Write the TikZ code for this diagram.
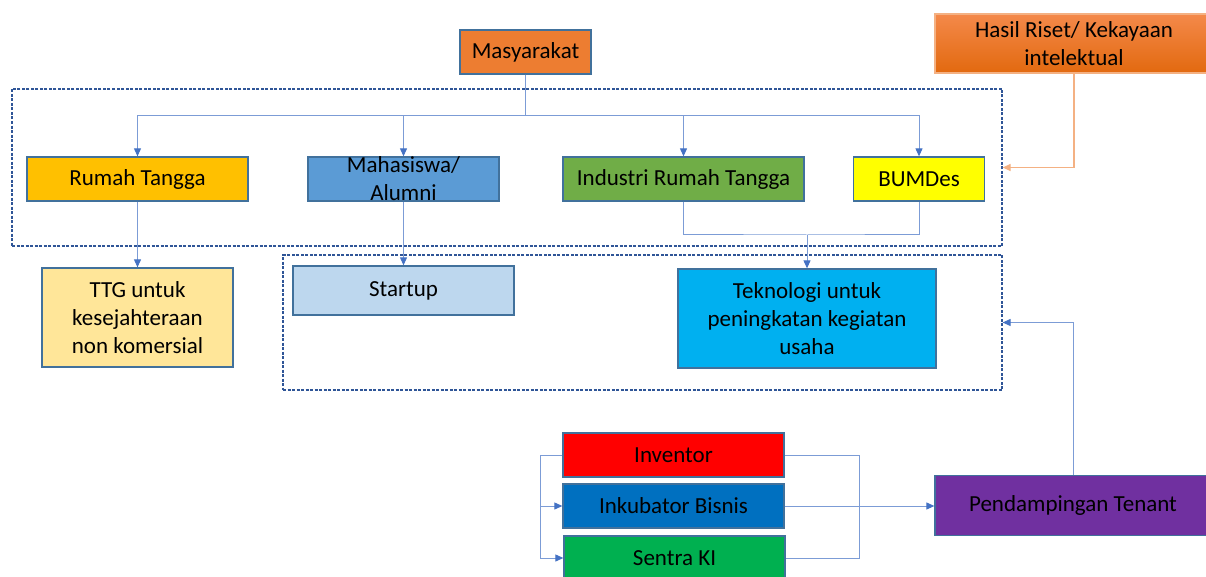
\documentclass[tikz,border=0pt]{standalone}
\usepackage{fontspec}
\setmainfont{Carlito}
\usetikzlibrary{arrows.meta}
\definecolor{edgeblue}{HTML}{41719C}
\definecolor{linkblue}{HTML}{4472C4}
\definecolor{groupblue}{HTML}{2F5597}
\definecolor{linkorange}{HTML}{F4B183}
\definecolor{cMas}{HTML}{ED7D31}
\definecolor{cHasTop}{HTML}{F4894A}
\definecolor{cHasBot}{HTML}{E2690F}
\definecolor{cRT}{HTML}{FFC000}
\definecolor{cMah}{HTML}{5B9BD5}
\definecolor{cInd}{HTML}{70AD47}
\definecolor{cBum}{HTML}{FFFF00}
\definecolor{cTTG}{HTML}{FFE699}
\definecolor{cSta}{HTML}{BDD7EE}
\definecolor{cTek}{HTML}{00B0F0}
\definecolor{cInv}{HTML}{FF0000}
\definecolor{cInk}{HTML}{0070C0}
\definecolor{cSen}{HTML}{00B050}
\definecolor{cPen}{HTML}{7030A0}
\begin{document}
\begin{tikzpicture}[x=1pt,y=-1pt,
  box/.style={draw=edgeblue,line width=1.3pt,inner sep=0pt,align=center,
    font=\fontsize{23}{28}\selectfont,text=black},
  group/.style={draw=groupblue,line width=1.2pt,dash pattern=on 3pt off 1.5pt,inner sep=0pt},
  conn/.style={draw=linkblue!70,line width=1pt},
  arr/.style={conn,-{Triangle[length=8pt,width=7pt,color=linkblue]}},
  oarr/.style={draw=linkorange,line width=1.2pt,-{Triangle[length=8pt,width=7pt]}}]
\useasboundingbox (0,0) rectangle (1206,577);

% group frames
\node[group,minimum width=990pt,minimum height=157pt] (grp1) at (507,167.5) {};
\node[group,minimum width=719pt,minimum height=135pt] (grp2) at (642.5,322.5) {};

% top level
\node[box,fill=cMas,minimum width=131pt,minimum height=44pt] (mas) at (525.5,52) {Masyarakat};
\node[box,draw=linkorange,top color=cHasTop,bottom color=cHasBot,minimum width=278pt,minimum height=59pt]
  (has) at (1074,43.5) {Hasil Riset/ Kekayaan\\intelektual};

% groups of the community
\node[box,fill=cRT,minimum width=221pt,minimum height=44pt] (rt) at (137.5,179) {Rumah Tangga};
\node[box,fill=cMah,minimum width=191pt,minimum height=44pt,
  label={[font=\fontsize{23}{28}\selectfont,align=center,text=black]center:Mahasiswa/\\Alumni}]
  (mah) at (403.5,179) {};
\node[box,fill=cInd,minimum width=241pt,minimum height=44pt] (ind) at (683.5,179) {Industri Rumah Tangga};
\node[box,fill=cBum,minimum width=131pt,minimum height=44pt] (bum) at (919,179) {BUMDes};

% outcomes
\node[box,fill=cTTG,minimum width=191pt,minimum height=99pt] (ttg) at (137.5,317.5) {TTG untuk\\kesejahteraan\\non komersial};
\node[box,fill=cSta,minimum width=221pt,minimum height=49pt] (sta) at (403.5,290.5) {Startup};
\node[box,fill=cTek,minimum width=258pt,minimum height=99pt] (tek) at (807,318.5) {Teknologi untuk\\peningkatan kegiatan\\usaha};

% support
\node[box,fill=cInv,minimum width=221pt,minimum height=44pt] (inv) at (673.5,455) {Inventor};
\node[box,fill=cInk,minimum width=221pt,minimum height=44pt] (ink) at (673.5,506) {Inkubator Bisnis};
\node[box,fill=cSen,minimum width=221pt,minimum height=44pt] (sen) at (674.5,558) {Sentra KI};
\node[box,fill=cPen,minimum width=276pt,minimum height=60pt] (pen) at (1073,505.5) {Pendampingan Tenant};

% helper coordinates for routing
\coordinate (bus) at (0,116);
\coordinate (merge) at (807,235);
\coordinate (lb) at (540,0);
\coordinate (rb) at (859,0);

% distribution from Masyarakat
\draw[arr] (mas.south) -- (mas.south |- bus) -| (rt.north);
\draw[arr] (mas.south) -- (mas.south |- bus) -| (mah.north);
\draw[arr] (mas.south) -- (mas.south |- bus) -| (ind.north);
\draw[arr] (mas.south) -- (mas.south |- bus) -| (bum.north);

% down to the outcomes
\draw[arr] (rt.south) -- (ttg.north);
\draw[arr] (mah.south) -- (sta.north);
\draw[conn] (ind.south) |- (merge) -| (bum.south);
\draw[arr] (merge) -- (tek.north);

% research results feed the community groups
\draw[oarr] (has.south) |- (grp1.east);

% support bracket
\draw[arr] (inv.west) -- (inv.west -| lb) |- (ink.west);
\draw[arr] (inv.west) -- (inv.west -| lb) |- (sen.west);
\draw[conn] (inv.east) -| (rb |- sen.east) -- (sen.east);
\draw[conn] (ink.east) -- (rb |- ink.east);
\draw[arr] (rb |- ink.east) -- (pen.west |- ink.east);
\draw[arr] (pen.north) |- (grp2.east);
\end{tikzpicture}
\end{document}
